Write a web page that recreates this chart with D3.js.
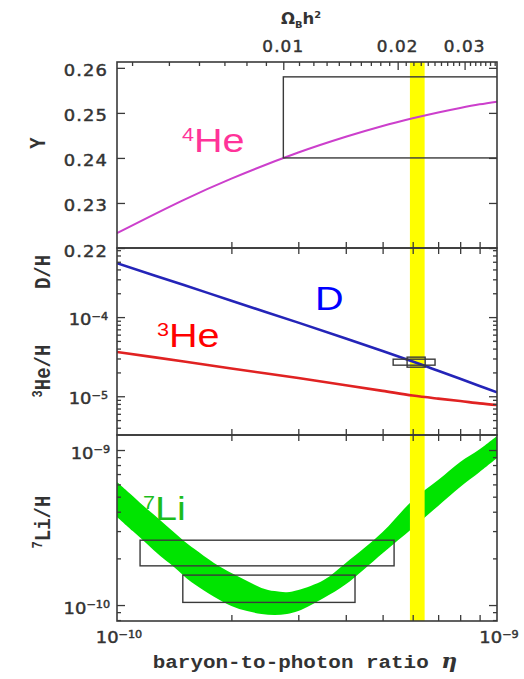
<!DOCTYPE html>
<html>
<head>
<meta charset="utf-8">
<script src="https://d3js.org/d3.v7.min.js"></script>
<style>
  body { margin: 0; background: #fff; }
</style>
</head>
<body>
<svg width="524" height="679"></svg>
<script>
// baryon-to-photon ratio, in units of 1e-10
var eta = [1, 1.5, 2, 3, 4, 5, 6, 7, 8, 9, 10];
var he4Y = [0.2233, 0.2307, 0.2354, 0.2412, 0.2447, 0.2471, 0.2488, 0.2501, 0.2511, 0.2519, 0.2525];
var dH = [4.79e-4, 2.54e-4, 1.61e-4, 8.51e-5, 5.35e-5, 3.72e-5, 2.75e-5, 2.10e-5, 1.66e-5, 1.35e-5, 1.12e-5];
var he3H = [3.63e-5, 2.75e-5, 2.24e-5, 1.70e-5, 1.38e-5, 1.17e-5, 1.02e-5, 9.33e-6, 8.71e-6, 8.13e-6, 7.76e-6];

var etaLi = [1, 1.1, 1.2, 1.3, 1.4, 1.5, 1.6, 1.8, 2, 2.2, 2.4, 2.6, 2.8, 3, 3.5, 4, 5, 6, 7, 8, 9, 10];
var li7Upper = [6.22e-10, 5.05e-10, 4.16e-10, 3.53e-10, 3.00e-10, 2.59e-10, 2.30e-10, 1.87e-10, 1.61e-10, 1.43e-10, 1.29e-10,
                1.23e-10, 1.21e-10, 1.25e-10, 1.45e-10, 1.87e-10, 2.96e-10, 4.75e-10, 6.40e-10, 8.38e-10, 1.01e-9, 1.23e-9];
var li7Lower = [3.70e-10, 3.00e-10, 2.48e-10, 2.07e-10, 1.79e-10, 1.54e-10, 1.36e-10, 1.13e-10, 9.86e-11, 9.14e-11, 8.75e-11,
                8.61e-11, 8.75e-11, 9.14e-11, 1.11e-10, 1.36e-10, 2.16e-10, 3.14e-10, 4.36e-10, 5.77e-10, 7.21e-10, 8.87e-10];

// CMB band in eta (1e-10)
var etaCMB = [5.9, 6.45];

// observational boxes: [eta lo, eta hi, value lo, value hi]
var heBox = [2.74, 12, 0.240, 0.258];
var dBoxes = [[5.33, 6.87, 2.47e-5, 2.94e-5], [5.8, 6.47, 2.33e-5, 3.12e-5]];
var liBoxes = [[1.15, 5.36, 1.79e-10, 2.62e-10], [1.49, 4.23, 1.04e-10, 1.56e-10]];

// tick values
var etaTicks = [2, 3, 4, 5, 6, 7, 8, 9];
var heTicks = [0.22, 0.23, 0.24, 0.25, 0.26];
var dMajor = [1e-5, 1e-4];
var liMajor = [1e-10, 1e-9];
var omegaMajor = [0.01, 0.02, 0.03];
var omegaMinor = [0.004, 0.005, 0.006, 0.007, 0.008, 0.009,
                  0.011, 0.012, 0.013, 0.014, 0.015, 0.016, 0.017, 0.018, 0.019,
                  0.021, 0.022, 0.023, 0.024, 0.025, 0.026, 0.027, 0.028, 0.029,
                  0.031, 0.032, 0.033, 0.034, 0.035, 0.036];
var omegaToEta = 273.9;

var svg = d3.select("svg");
var X0 = 117, X1 = 497;
var panels = [[62, 248], [248, 435], [435, 621]];

var x = d3.scaleLog().domain([1, 10]).range([X0, X1]);
var xOm = d3.scaleLog().domain([1 / omegaToEta, 10 / omegaToEta]).range([X0, X1]);
var yHe = d3.scaleLinear().domain([0.22, 0.2613]).range([248, 62]);
var yD = d3.scaleLog().domain([3.24e-6, 7.46e-4]).range([435, 248]);
var yLi = d3.scaleLog().domain([7.89e-11, 1.25e-9]).range([621, 435]);

function minorLog(scale) {
  var d = scale.domain(), out = [];
  for (var e = -12; e <= -2; e++) {
    for (var k = 2; k <= 9; k++) {
      var v = k * Math.pow(10, e);
      if (v > d[0] && v < d[1]) out.push(v);
    }
  }
  return out;
}

var defs = svg.append("defs");
panels.forEach(function(p, i) {
  defs.append("clipPath").attr("id", "clip" + i)
    .append("rect").attr("x", X0).attr("y", p[0]).attr("width", X1 - X0).attr("height", p[1] - p[0]);
});

// 7Li band
svg.append("path")
  .datum(etaLi.map(function(e, i) { return [e, li7Lower[i], li7Upper[i]]; }))
  .attr("clip-path", "url(#clip2)")
  .attr("fill", "#00e400")
  .attr("d", d3.area()
    .x(function(d) { return x(d[0]); })
    .y0(function(d) { return yLi(d[1]); })
    .y1(function(d) { return yLi(d[2]); })
    .curve(d3.curveCatmullRom));

// yellow CMB band
svg.append("rect")
  .attr("x", x(etaCMB[0])).attr("width", x(etaCMB[1]) - x(etaCMB[0]))
  .attr("y", panels[0][0]).attr("height", panels[2][1] - panels[0][0])
  .attr("fill", "#ffff00");

function curve(vals, yScale, color, w, clip) {
  svg.append("path")
    .datum(eta.map(function(e, i) { return [e, vals[i]]; }))
    .attr("clip-path", "url(#clip" + clip + ")")
    .attr("fill", "none").attr("stroke", color).attr("stroke-width", w)
    .attr("d", d3.line()
      .x(function(d) { return x(d[0]); })
      .y(function(d) { return yScale(d[1]); })
      .curve(d3.curveCatmullRom));
}
curve(he4Y, yHe, "#cc3fcc", 2, 0);
curve(he3H, yD, "#e02222", 2.6, 1);
curve(dH, yD, "#2424b8", 2.6, 1);

function box(b, yScale, clip) {
  svg.append("rect")
    .attr("clip-path", "url(#clip" + clip + ")")
    .attr("x", x(b[0])).attr("width", x(b[1]) - x(b[0]))
    .attr("y", yScale(b[3])).attr("height", yScale(b[2]) - yScale(b[3]))
    .attr("fill", "none").attr("stroke", "#3a3a3a").attr("stroke-width", 1.4);
}
box(heBox, yHe, 0);
dBoxes.forEach(function(b) { box(b, yD, 1); });
liBoxes.forEach(function(b) { box(b, yLi, 2); });

// axes ticks
function tickAxis(axis, tx, ty) {
  var g = svg.append("g").attr("transform", "translate(" + tx + "," + ty + ")").call(axis);
  g.select(".domain").remove();
  g.selectAll("line").attr("stroke", "#3a3a3a").attr("stroke-width", 1.3);
  g.selectAll("text").remove();
}
panels.forEach(function(p, i) {
  tickAxis(d3.axisBottom(x).tickValues(etaTicks).tickSize(-6), 0, p[1]);
  if (i > 0) tickAxis(d3.axisTop(x).tickValues(etaTicks).tickSize(-6), 0, p[0]);
});
tickAxis(d3.axisTop(xOm).tickValues(omegaMajor).tickSize(-8), 0, 62);
tickAxis(d3.axisTop(xOm).tickValues(omegaMinor).tickSize(-4), 0, 62);

[[yHe, heTicks, []], [yD, dMajor, minorLog(yD)], [yLi, liMajor, minorLog(yLi)]].forEach(function(a) {
  tickAxis(d3.axisLeft(a[0]).tickValues(a[1]).tickSize(-8), X0, 0);
  tickAxis(d3.axisRight(a[0]).tickValues(a[1]).tickSize(-8), X1, 0);
  if (a[2].length) {
    tickAxis(d3.axisLeft(a[0]).tickValues(a[2]).tickSize(-4), X0, 0);
    tickAxis(d3.axisRight(a[0]).tickValues(a[2]).tickSize(-4), X1, 0);
  }
});

// frames
panels.forEach(function(p) {
  svg.append("rect").attr("x", X0).attr("y", p[0]).attr("width", X1 - X0).attr("height", p[1] - p[0])
    .attr("fill", "none").attr("stroke", "#3a3a3a").attr("stroke-width", 1.6);
});

// text helper: parts = [[text, baselineOffset, size, style]]
function addText(px, py, parts, o) {
  var t = svg.append("text")
    .attr("transform", "translate(" + px + "," + py + ") scale(" + (o.sx || 1) + ",1)" + (o.rot ? " rotate(" + o.rot + ")" : ""))
    .attr("text-anchor", o.anchor || "start")
    .attr("font-family", o.font || "DejaVu Sans")
    .attr("font-weight", o.weight || "normal")
    .attr("fill", o.fill || "#333");
  if (o.stroke) t.attr("stroke", o.fill || "#333").attr("stroke-width", o.stroke);
  var cur = 0;
  parts.forEach(function(p) {
    var s = t.append("tspan").text(p[0])
      .attr("font-size", (p[2] || o.size) + "px")
      .attr("dy", (p[1] || 0) - cur);
    if (p[3]) s.attr("font-family", p[3].font).attr("font-style", p[3].style || null);
    cur = p[1] || 0;
  });
  return t;
}

var tickStyle = {size: 16, anchor: "end", sx: 1.12, fill: "#333", stroke: 0.45};
heTicks.forEach(function(v) {
  addText(108, yHe(v) + 8.5, [[d3.format(".2f")(v)]], tickStyle).attr("letter-spacing", "1px");
});
function powLabel(e) { return [["10"], ["\u2212" + (-e), -5.5, 10]]; }
dMajor.forEach(function(v) { addText(108, yD(v) + 8, powLabel(Math.round(Math.log10(v))), tickStyle); });
liMajor.forEach(function(v) { addText(110, yLi(v) + 8.5, powLabel(Math.round(Math.log10(v))), tickStyle); });

[1, 10].forEach(function(v) {
  addText(x(v) + 2, 643, powLabel(Math.round(Math.log10(v * 1e-10))), {size: 16, anchor: "middle", sx: 1.12, stroke: 0.45});
});
omegaMajor.forEach(function(v) {
  addText(xOm(v), 52, [[d3.format(".2f")(v)]], {size: 15, anchor: "middle", sx: 1.12, stroke: 0.45}).attr("letter-spacing", "1px");
});
addText(301, 24, [["\u03a9"], ["B", 4, 9], ["h", 0], ["2", -6, 9]], {size: 15, anchor: "middle", sx: 1.1, weight: "bold"});

var monoStyle = {size: 19, font: "Liberation Mono", weight: "bold", anchor: "middle", sx: 1.2, rot: -90, fill: "#333"};
addText(45, 143, [["Y"]], monoStyle);
addText(50, 272, [["D/H"]], monoStyle);
addText(50, 371, [["3", -7, 12], ["He/H", 0]], monoStyle);
addText(50, 522, [["7", -7, 12], ["Li/H", 0]], monoStyle);

addText(305, 668, [["baryon-to-photon ratio  "], ["\u03b7", 0, 20, {font: "DejaVu Serif", style: "italic"}]],
  {size: 19, font: "Liberation Mono", weight: "bold", anchor: "middle", sx: 1.1, fill: "#333"});

// element labels
var big = 33;
addText(182, 152, [["4", -11, 18], ["He", 0]], {size: big, font: "Liberation Sans", sx: 1.2, fill: "#ff3399"});
addText(315, 310, [["D"]], {size: big, font: "Liberation Sans", sx: 1.2, fill: "#0000ff"});
addText(157, 347, [["3", -11, 18], ["He", 0]], {size: big, font: "Liberation Sans", sx: 1.2, fill: "#ff0000"});
addText(143, 520, [["7", -11, 18], ["Li", 0]], {size: big, font: "Liberation Sans", sx: 1.2, fill: "#1cbc1c"});
</script>
</body>
</html>
